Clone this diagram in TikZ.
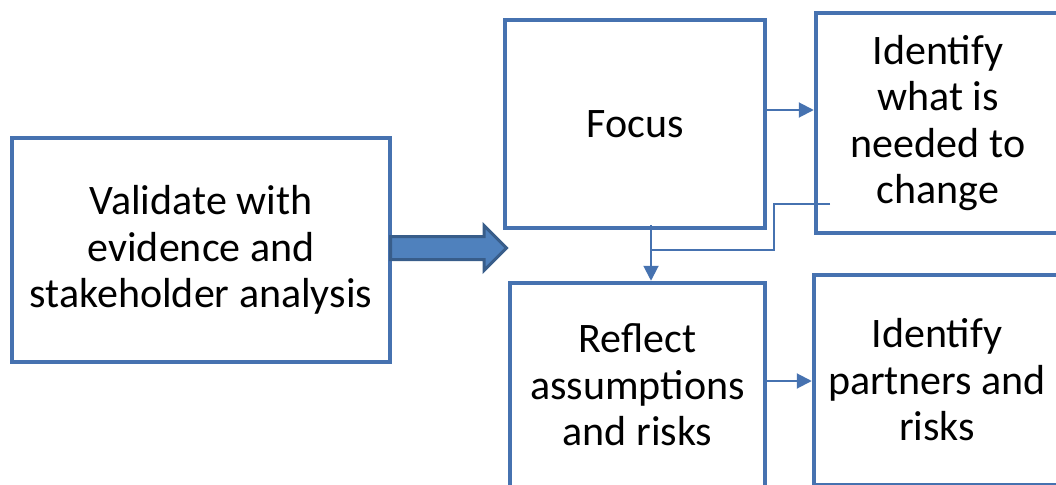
\documentclass[tikz,border=0pt]{standalone}
\usepackage{fontspec}
\setmainfont{Carlito}
\usetikzlibrary{arrows.meta,shapes.arrows}
\definecolor{boxblue}{RGB}{70,114,176}
\definecolor{arrowfill}{RGB}{79,129,189}
\definecolor{arrowline}{RGB}{56,93,138}
\begin{document}
\begin{tikzpicture}[
    x=1pt, y=-1pt,
    font=\fontsize{42}{46.5}\selectfont,
    box/.style={rectangle, draw=boxblue, line width=4.5pt, fill=white, align=center, inner sep=0pt},
    link/.style={-{Triangle[length=15pt,width=15pt]}, draw=boxblue, line width=2pt},
    bare/.style={draw=boxblue, line width=1.5pt}
  ]

  \useasboundingbox (0,0) rectangle (1056,484);
  \clip (0,0) rectangle (1056,484);

  % Left box
  \node[box, minimum width=378pt, minimum height=224pt] (validate) at (201,250) {Validate with\\evidence and\\stakeholder analysis};

  % Upper row
  \node[box, minimum width=260pt, minimum height=208pt] (focus) at (635,124) {Focus};
  \node[box, minimum width=244pt, minimum height=220pt] (change) at (938,123) {Identify\\what is\\needed to\\change};

  % Lower row
  \node[box, minimum width=255pt, minimum height=204pt] (reflect) at (637.5,385) {Reflect\\assumptions\\and risks};
  \node[box, minimum width=246pt, minimum height=210pt] (partners) at (937,380) {Identify\\partners and\\risks};

  % Block arrow from validate to focus
  \node[single arrow, draw=arrowline, fill=arrowfill, line width=3pt,
        minimum height=116pt, inner xsep=0pt, inner ysep=10pt,
        single arrow head extend=11pt, anchor=west] (push) at (389,248) {};

  % Thin connectors
  \draw[link] ([yshift=14pt]focus.east) -- ([yshift=14pt]focus.east -| change.west);
  \draw[link] ([yshift=4pt]reflect.east) -- ([yshift=4pt]reflect.east -| partners.west);
  \draw[link] ([xshift=16pt, yshift=5pt]focus.south) -- ([xshift=16pt]focus.south |- reflect.north);

  % Loose elbow line
  \coordinate (loose) at (830,204);
  \coordinate (join) at (651,250);
  \draw[bare] (loose) -- (774,204) |- (join);

\end{tikzpicture}
\end{document}
